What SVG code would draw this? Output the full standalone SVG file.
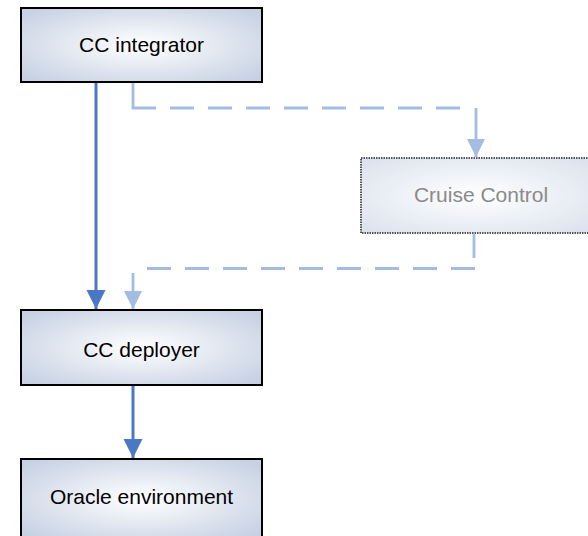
<svg xmlns="http://www.w3.org/2000/svg" width="588" height="536" viewBox="0 0 588 536">
<defs>
<radialGradient id="g" cx="50%" cy="50%" r="65%">
<stop offset="0" stop-color="#ffffff"/>
<stop offset="1" stop-color="#c6d1e3"/>
</radialGradient>
<radialGradient id="g2" cx="50%" cy="50%" r="65%">
<stop offset="0" stop-color="#ffffff"/>
<stop offset="1" stop-color="#dde3ee"/>
</radialGradient>
<marker id="solid" viewBox="0 0 10 10" refX="10" refY="5" markerWidth="6.5" markerHeight="6.5" orient="auto" markerUnits="strokeWidth">
<path d="M0,0 L10,5 L0,10 Z" fill="#4a78c4"/>
</marker>
<marker id="light" viewBox="0 0 10 10" refX="10" refY="5" markerWidth="6.5" markerHeight="6.5" orient="auto" markerUnits="strokeWidth">
<path d="M0,0 L10,5 L0,10 Z" fill="#a4bbe2"/>
</marker>
</defs>
<style>
.box{fill:url(#g);stroke:#000;stroke-width:2}
.ghost{fill:url(#g2);stroke:#555;stroke-width:2;stroke-dasharray:1.5 1}
.t{font-family:"Liberation Sans",Arial,sans-serif;font-size:21px;text-anchor:middle;fill:#000}
.tg{fill:#8a8a8a}
.s{fill:none;stroke:#4a78c4;stroke-width:3}
.d{fill:none;stroke:#a4bbe2;stroke-width:2.8}
.dd{stroke-dasharray:24 14}
</style>
<g id="connectors">
<path class="s" d="M96,82 V309" marker-end="url(#solid)"/>
<path class="s" d="M133,385 V458" marker-end="url(#solid)"/>
<path class="d" d="M133,83 V108 H156"/>
<path class="d dd" d="M170,108 H465"/>
<path class="d" d="M476,108 V157" marker-end="url(#light)"/>
<path class="d" d="M474,234 V258"/>
<path class="d dd" d="M475,268.5 H143"/>
<path class="d" d="M133,273 V309" marker-end="url(#light)"/>
</g>
<g id="cc-integrator">
<rect class="box" x="21" y="8" width="241" height="74"/>
<text class="t" x="141.5" y="52">CC integrator</text>
</g>
<g id="cruise-control">
<rect class="ghost" x="361" y="158" width="230" height="75"/>
<text class="t tg" x="481" y="202">Cruise Control</text>
</g>
<g id="cc-deployer">
<rect class="box" x="21" y="310" width="241" height="75"/>
<text class="t" x="141.5" y="357">CC deployer</text>
</g>
<g id="oracle-environment">
<rect class="box" x="21" y="459" width="241" height="80"/>
<text class="t" x="141.5" y="504">Oracle environment</text>
</g>
</svg>
